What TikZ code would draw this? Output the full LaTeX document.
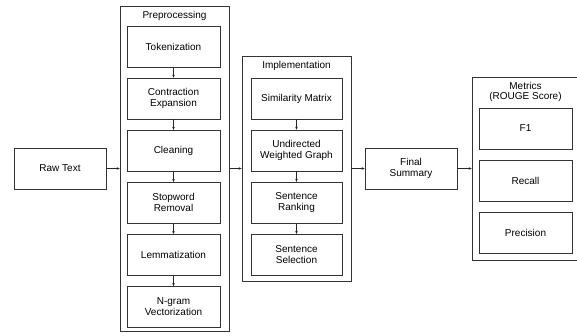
\documentclass[tikz,border=0pt]{standalone}
\usepackage{fontspec}
\setmainfont{Liberation Sans}
\usepackage{tikz}
\usetikzlibrary{positioning, arrows.meta, calc}

\tikzset{
	stage/.style={draw=black!80, line width=0.7pt, minimum width=93pt, minimum height=41pt, inner sep=0pt, align=center, font=\fontsize{10}{11}\selectfont},
	group/.style={draw=black!80, line width=0.7pt, inner sep=0pt},
	grouptitle/.style={align=center, inner sep=0pt, font=\fontsize{10}{10.5}\selectfont},
	flow/.style={-{Stealth[length=3pt,width=2.6pt]}, line width=0.6pt, black!85},
}

\begin{document}
\begin{tikzpicture}[x=1pt, y=-1pt, node distance=10.4pt]
		\useasboundingbox (0,0) rectangle (577,336);
		
		% input
		\node[stage, minimum width=92pt] (raw) at (60,168.5) {Raw Text};
		
		% preprocessing column
		\node[group, minimum width=109pt, minimum height=325pt] (prep) at (174.5,168.5) {};
		\node[grouptitle] (preptitle) at (174.5,16) {Preprocessing};
		\node[stage] (tok) at (173.5,46.5) {Tokenization};
		\node[stage, below=of tok] (contr) {Contraction\\Expansion};
		\node[stage, below=of contr] (clean) {Cleaning};
		\node[stage, below=of clean] (stop) {Stopword\\Removal};
		\node[stage, below=of stop] (lemma) {Lemmatization};
		\node[stage, below=of lemma] (ngram) {N-gram\\Vectorization};
		
		% implementation column
		\node[group, minimum width=109pt, minimum height=225pt] (impl) at (296.5,168.5) {};
		\node[grouptitle] (impltitle) at (296.5,65.5) {Implementation};
		\node[stage, minimum width=91pt] (simmat) at (296.5,98.5) {Similarity Matrix};
		\node[stage, minimum width=91pt, below=of simmat] (graph) {Undirected\\Weighted Graph};
		\node[stage, minimum width=91pt, below=of graph] (rank) {Sentence\\Ranking};
		\node[stage, minimum width=91pt, below=of rank] (select) {Sentence\\Selection};
		
		% output
		\node[stage, minimum width=92pt] (summary) at (411,168.5) {Final\\Summary};
		
		% metrics column
		\node[group, minimum width=112pt, minimum height=183pt] (metrics) at (528,168.5) {};
		\node[grouptitle] (metricstitle) at (525.5,92) {Metrics\\(ROUGE Score)};
		\node[stage] (fone) at (525.5,128.5) {F1};
		\node[stage, below=of fone] (recall) {Recall};
		\node[stage, below=of recall] (prec) {Precision};
		
		% arrows inside the columns
		\foreach \a/\b in {tok/contr, contr/clean, clean/stop, stop/lemma, lemma/ngram, simmat/graph, graph/rank, rank/select}
			\draw[flow] (\a.south) -- (\b.north);
		
		% arrows between the stages
		\draw[flow] (raw.east) -- (prep.west);
		\draw[flow] (prep.east) -- (impl.west);
		\draw[flow] (impl.east) -- (summary.west);
		\draw[flow] (summary.east) -- (metrics.west);
		
\end{tikzpicture}
\end{document}
